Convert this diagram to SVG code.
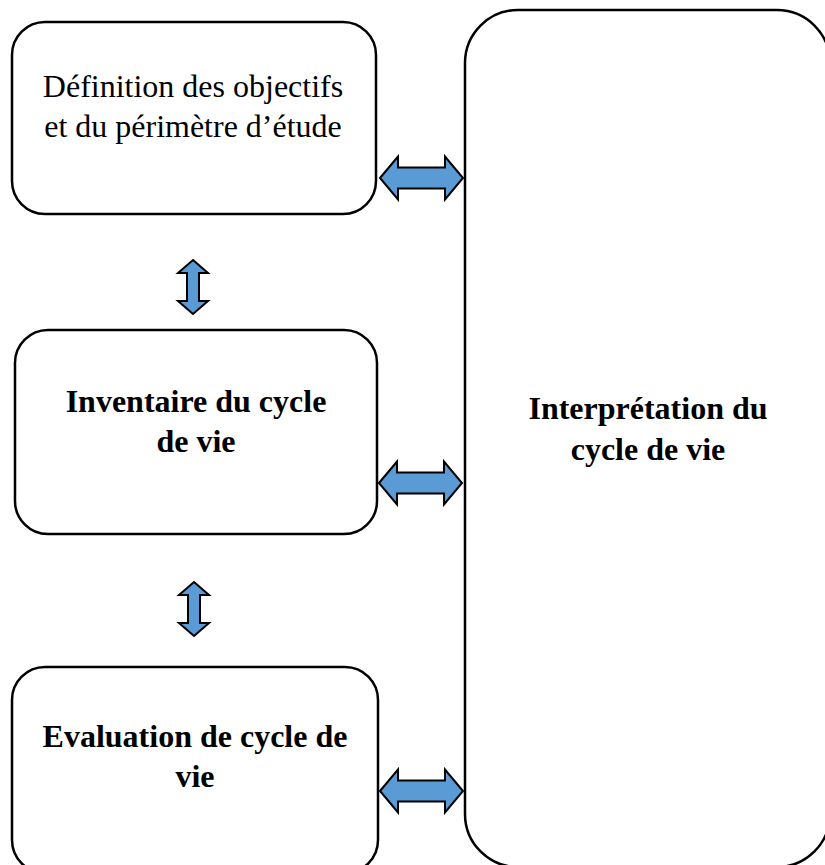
<svg xmlns="http://www.w3.org/2000/svg" width="825" height="865" viewBox="0 0 825 865">
<style>
.box{fill:#fff;stroke:#000;stroke-width:2.5}
.arr{fill:#5B9BD5;stroke:#000;stroke-width:2;stroke-linejoin:miter}
.t{font-family:"Liberation Serif","Times New Roman",serif;font-size:32px;fill:#000;text-anchor:middle}
.b{font-weight:bold}
</style>
<defs>
<path id="h" d="M0,0 L18,-21.5 L18,-10.5 L65,-10.5 L65,-21.5 L83,0 L65,21.5 L65,10.5 L18,10.5 L18,21.5 Z"/>
<path id="v" d="M0,0 L15,13 L6,13 L6,41 L15,41 L0,54 L-15,41 L-6,41 L-6,13 L-15,13 Z"/>
</defs>
<rect width="825" height="865" fill="#fff"/>
<g id="interpretation">
<rect class="box" x="465" y="10" width="365" height="857" rx="53"/>
<text class="t b" x="648" y="419">Interprétation du</text>
<text class="t b" x="648" y="460">cycle de vie</text>
</g>
<g id="definition">
<rect class="box" x="12" y="22" width="364" height="192" rx="33"/>
<text class="t" x="193" y="97">Définition des objectifs</text>
<text class="t" x="193" y="137">et du périmètre d’étude</text>
</g>
<g id="inventaire">
<rect class="box" x="15" y="330" width="362" height="204" rx="33"/>
<text class="t b" x="196" y="412">Inventaire du cycle</text>
<text class="t b" x="196" y="452">de vie</text>
</g>
<g id="evaluation">
<rect class="box" x="12" y="667" width="366" height="206" rx="33"/>
<text class="t b" x="195" y="747">Evaluation de cycle de</text>
<text class="t b" x="195" y="787">vie</text>
</g>
<g id="connectors">
<use href="#h" class="arr" transform="translate(380,178)"/>
<use href="#h" class="arr" transform="translate(379,483)"/>
<use href="#h" class="arr" transform="translate(380,791)"/>
<use href="#v" class="arr" transform="translate(193,260)"/>
<use href="#v" class="arr" transform="translate(194,582)"/>
</g>
</svg>
